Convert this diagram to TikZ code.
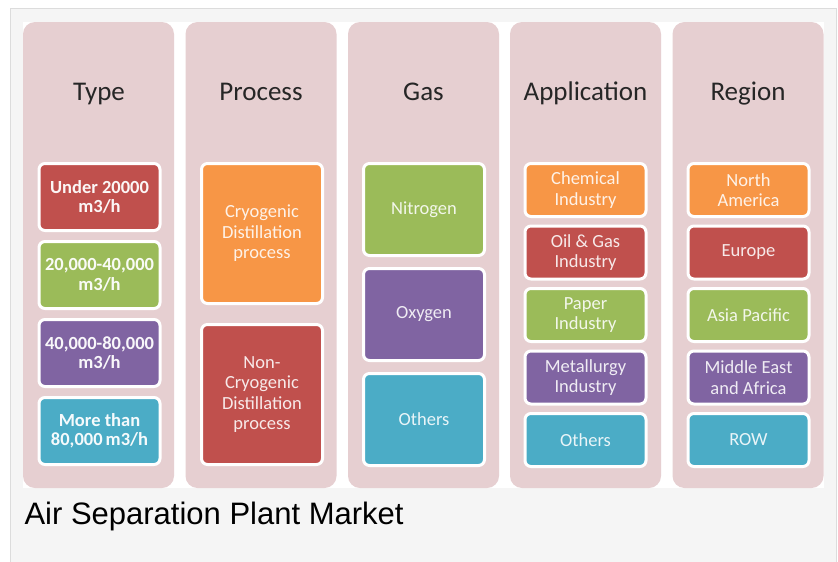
\documentclass[tikz,border=0pt]{standalone}
\usepackage{fontspec}
\setmainfont{Carlito}
\newfontfamily\captionfont{Liberation Sans}
\usetikzlibrary{positioning}

\definecolor{colpink}{HTML}{E6CFD1}
\definecolor{boxred}{HTML}{C0504D}
\definecolor{boxgreen}{HTML}{9BBB59}
\definecolor{boxpurple}{HTML}{8064A2}
\definecolor{boxblue}{HTML}{4BACC6}
\definecolor{boxorange}{HTML}{F79646}
\definecolor{framefill}{HTML}{F5F5F5}
\definecolor{frameline}{HTML}{DCDCDC}
\definecolor{titlegray}{HTML}{262626}

\tikzset{
  column/.style={fill=colpink, rounded corners=12pt, minimum width=151pt,
    minimum height=466pt, inner sep=0pt},
  heading/.style={text=titlegray, font=\fontsize{27}{30}\selectfont, anchor=base},
  item/.style={draw=white, line width=3pt, rounded corners=6pt, minimum width=121pt,
    inner sep=0pt, align=center, text=white, text opacity=0.88,
    font=\fontsize{18.5}{20.5}\selectfont},
  bolditem/.style={item, text opacity=0.95, font=\fontsize{18.5}{19.5}\selectfont\bfseries},
}

\begin{document}
\begin{tikzpicture}[x=1pt, y=-1pt]
\useasboundingbox (0,0) rectangle (838,562);

% frame and picture area
\draw[frameline, fill=framefill, line width=1pt] (10.5,8.5) rectangle (836,570);
\fill[white] (23,22) rectangle (823.5,488);

% columns
\node[column] (cType)   at (98.5,255)  {};
\node[column] (cProc)   at (261,255)   {};
\node[column] (cGas)    at (423.5,255) {};
\node[column] (cApp)    at (585.5,255) {};
\node[column] (cRegion) at (748,255)   {};

\node[heading] (hType)   at (99,100)    {Type};
\node[heading] (hProc)   at (261,100)   {Process};
\node[heading] (hGas)    at (423.5,100) {Gas};
\node[heading] (hApp)    at (585.5,100) {Application};
\node[heading] (hRegion) at (748,100)   {Region};

% type
\node[bolditem, fill=boxred, minimum height=67pt, anchor=north] (t1) at (99.5,162) {Under 20000\\m3/h};
\node[bolditem, fill=boxgreen, minimum height=67pt, below=8pt of t1] (t2) {20,000-40,000\\m3/h};
\node[bolditem, fill=boxpurple, minimum height=67pt, below=8pt of t2] (t3) {40,000-80,000\\m3/h};
\node[bolditem, fill=boxblue, minimum height=67pt, below=8pt of t3] (t4) {More than\\80,000\,m3/h};

% process
\node[item, fill=boxorange, minimum height=140pt, anchor=north] (p1) at (262,162) {Cryogenic\\Distillation\\process};
\node[item, fill=boxred, minimum height=140pt, below=18pt of p1] (p2) {Non-\\Cryogenic\\Distillation\\process};

% gas
\node[item, fill=boxgreen, minimum height=92pt, anchor=north] (g1) at (424,162) {Nitrogen};
\node[item, fill=boxpurple, minimum height=92pt, below=10pt of g1] (g2) {Oxygen};
\node[item, fill=boxblue, minimum height=92pt, below=10pt of g2] (g3) {Others};

% application
\node[item, fill=boxorange, minimum height=53pt, anchor=north] (a1) at (585.5,162) {Chemical\\Industry};
\node[item, fill=boxred, minimum height=53pt, below=6.5pt of a1] (a2) {Oil \& Gas\\Industry};
\node[item, fill=boxgreen, minimum height=53pt, below=6.5pt of a2] (a3) {Paper\\Industry};
\node[item, fill=boxpurple, minimum height=53pt, below=6.5pt of a3] (a4) {Metallurgy\\Industry};
\node[item, fill=boxblue, minimum height=53pt, below=6.5pt of a4] (a5) {Others};

% region
\node[item, fill=boxorange, minimum height=53pt, anchor=north] (r1) at (748.5,162) {North\\America};
\node[item, fill=boxred, minimum height=53pt, below=6.5pt of r1] (r2) {Europe};
\node[item, fill=boxgreen, minimum height=53pt, below=6.5pt of r2] (r3) {Asia Pacific};
\node[item, fill=boxpurple, minimum height=53pt, below=6.5pt of r3] (r4) {Middle East\\and Africa};
\node[item, fill=boxblue, minimum height=53pt, below=6.5pt of r4] (r5) {ROW};

% caption
\node[anchor=base west, font=\captionfont\fontsize{31}{35}\selectfont] (caption) at (21,524) {Air Separation Plant Market};

\end{tikzpicture}
\end{document}
